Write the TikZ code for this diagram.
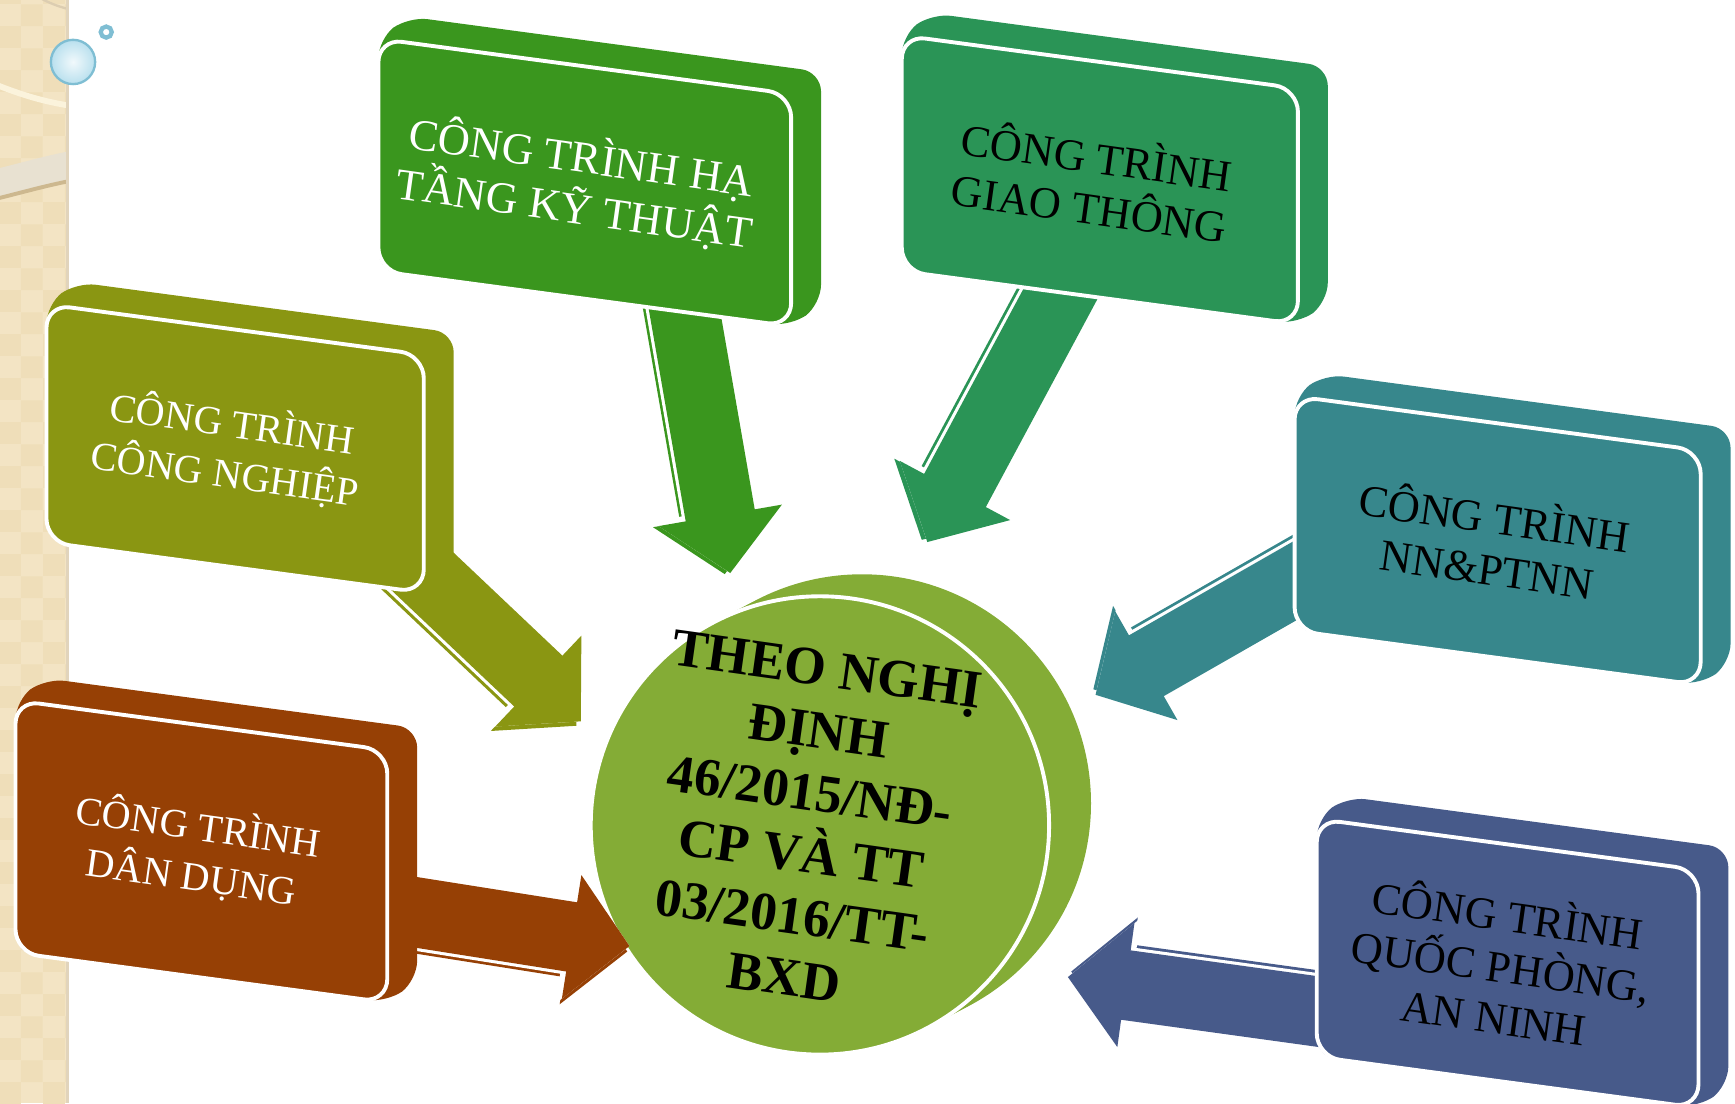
\documentclass[tikz,border=0pt]{standalone}
\usepackage{fontspec}
\setmainfont{Liberation Serif}
\usetikzlibrary{arrows.meta, positioning, patterns}
\definecolor{infragreen}{HTML}{3A961E}
\definecolor{trafficgreen}{HTML}{2A9456}
\definecolor{industryolive}{HTML}{8A9612}
\definecolor{agriteal}{HTML}{37878C}
\definecolor{civilbrown}{HTML}{964005}
\definecolor{defenceblue}{HTML}{475A8A}
\definecolor{lawgreen}{HTML}{84AC36}
\definecolor{stripbeige}{HTML}{F3E4C4}
\definecolor{stripcheck}{HTML}{EFDEB9}
\definecolor{stripcream}{HTML}{FBF3DC}
\definecolor{stripband}{HTML}{E8E1D1}
\definecolor{striptan}{HTML}{CDB88F}
\definecolor{bubbleblue}{HTML}{B9E0EE}
\definecolor{bubbleedge}{HTML}{7FBED3}
% tilted 3d tile: name, colour, x, y, width, height, text options, text
\newcommand\tile[8]{%
  \fill[#2, rounded corners=5pt] (#3,#4+#6) -- (#3,#4) -- (#3+27,#4-20) -- (#3+27+#5,#4-20+0.134*#5)
    -- (#3+27+#5,#4-20+0.134*#5+#6) -- (#3+#5,#4+0.134*#5+#6) -- cycle;
  \filldraw[#2, draw=white, line width=1pt, rounded corners=6pt] (#3,#4) -- (#3+#5,#4+0.134*#5)
    -- (#3+#5,#4+0.134*#5+#6) -- (#3,#4+#6) -- cycle;
  \node[tiletext, #7] (#1) at (#3+#5/2-6, #4+0.067*#5+#6/2) {#8};
}
% block arrow with its side face: colour, from, to, side shift
\newcommand\flow[4]{%
  \draw[flowline, #1, transform canvas={shift={(#4)}}] (#2) -- (#3);
  \draw[flowline, white, line width=19.6pt, -{Triangle[length=0.58cm, width=1.2cm]}] (#2) -- (#3);
  \draw[flowline, #1] (#2) -- (#3);
}

\begin{document}
\begin{tikzpicture}[x=0.01cm, y=-0.01cm,
  tiletext/.style={align=center, rotate=-8, inner sep=0pt},
  small/.style={font=\fontsize{10.3}{13}\selectfont},
  large/.style={font=\fontsize{11.4}{13.2}\selectfont},
  flowline/.style={line width=18pt, -{Triangle[length=0.53cm, width=1.1cm]}},
  lawdisc/.style={circle, fill=lawgreen, draw=white, line width=1pt, minimum size=4.14cm, inner sep=0pt},
  lawtext/.style={align=center, rotate=-8, inner sep=0pt, font=\bfseries\fontsize{13.8}{16}\selectfont}]

\useasboundingbox (0,0) rectangle (1568,997);

% side strip
\fill[stripbeige] (0,0) rectangle (62,997);
\fill[pattern=checkerboard, pattern color=stripcheck] (0,0) rectangle (62,997);
\begin{scope}
  \clip (0,0) rectangle (62,997);
  \draw[striptan!70, line width=0.6pt] (36,-2) .. controls (45,3) and (55,7) .. (66,9);
  \draw[stripcream, line width=1.5pt] (-5,76) .. controls (20,86) and (40,92) .. (66,96);
  \fill[stripband] (-5,153) .. controls (20,147) and (40,141) .. (66,136) -- (66,163)
    .. controls (40,168) and (20,174) .. (-5,180) -- cycle;
  \draw[striptan, line width=1pt] (-5,180) .. controls (20,174) and (40,168) .. (66,163);
\end{scope}
\draw[striptan!60, line width=0.8pt] (61,0) -- (61,997);
\node[circle, inner color=white!80!bubbleblue, outer color=bubbleblue, draw=bubbleedge, line width=0.6pt,
  minimum size=0.4cm, inner sep=0pt] (bubble) at (66,56) {};
\node[circle, draw=bubbleedge, line width=1.1pt, minimum size=0.1cm, inner sep=0pt] (droplet) at (96,29) {};

% centre disc
\foreach \lift in {1,0.75,0.5,0.25}
  \fill[lawgreen] (741+38*\lift, 746-20*\lift) circle [radius=207];
\node[lawdisc] (law) at (741,746) {};
\node[lawtext] (law-text) at (728,744) {THEO NGHỊ\\ĐỊNH\\46/2015/NĐ-\\CP VÀ TT\\03/2016/TT-\\BXD};

% arrows into the disc
\coordinate (infra-foot) at (614,254);     \coordinate (infra-tip) at (660,518);
\coordinate (traffic-foot) at (970,244);   \coordinate (traffic-tip) at (838,490);
\coordinate (industry-foot) at (336,473);  \coordinate (industry-tip) at (525,652);
\coordinate (agri-foot) at (1233,489);     \coordinate (agri-tip) at (990,628);
\coordinate (civil-foot) at (322,816);     \coordinate (civil-tip) at (569,855);
\coordinate (defence-foot) at (1233,920);  \coordinate (defence-tip) at (965,883);
\flow{infragreen}{infra-foot}{infra-tip}{-5,1}
\flow{trafficgreen}{traffic-foot}{traffic-tip}{-5,-2}
\flow{industryolive}{industry-foot}{industry-tip}{-4,4}
\flow{agriteal}{agri-foot}{agri-tip}{-2,-5}
\flow{civilbrown}{civil-foot}{civil-tip}{-2,5}
\flow{defenceblue}{defence-foot}{defence-tip}{3,-5}

% tiles
\tile{infra}{infragreen}{342}{35}{373}{210}{large, text=white}{CÔNG TRÌNH HẠ\\TẦNG KỸ THUẬT}
\tile{traffic}{trafficgreen}{815}{32}{358}{213}{large, text=black}{CÔNG TRÌNH\\GIAO THÔNG}
\tile{industry}{industryolive}{42}{275}{341}{215}{small, text=white}{CÔNG TRÌNH\\CÔNG NGHIỆP}
\tile{agri}{agriteal}{1170}{358}{367}{212}{large, text=black}{CÔNG TRÌNH\\NN\&PTNN}
\tile{civil}{civilbrown}{14}{633}{336}{228}{small, text=white}{CÔNG TRÌNH\\DÂN DỤNG}
\tile{defence}{defenceblue}{1190}{740}{345}{215}{large, text=black}{CÔNG TRÌNH\\QUỐC PHÒNG,\\AN NINH}
\end{tikzpicture}
\end{document}
